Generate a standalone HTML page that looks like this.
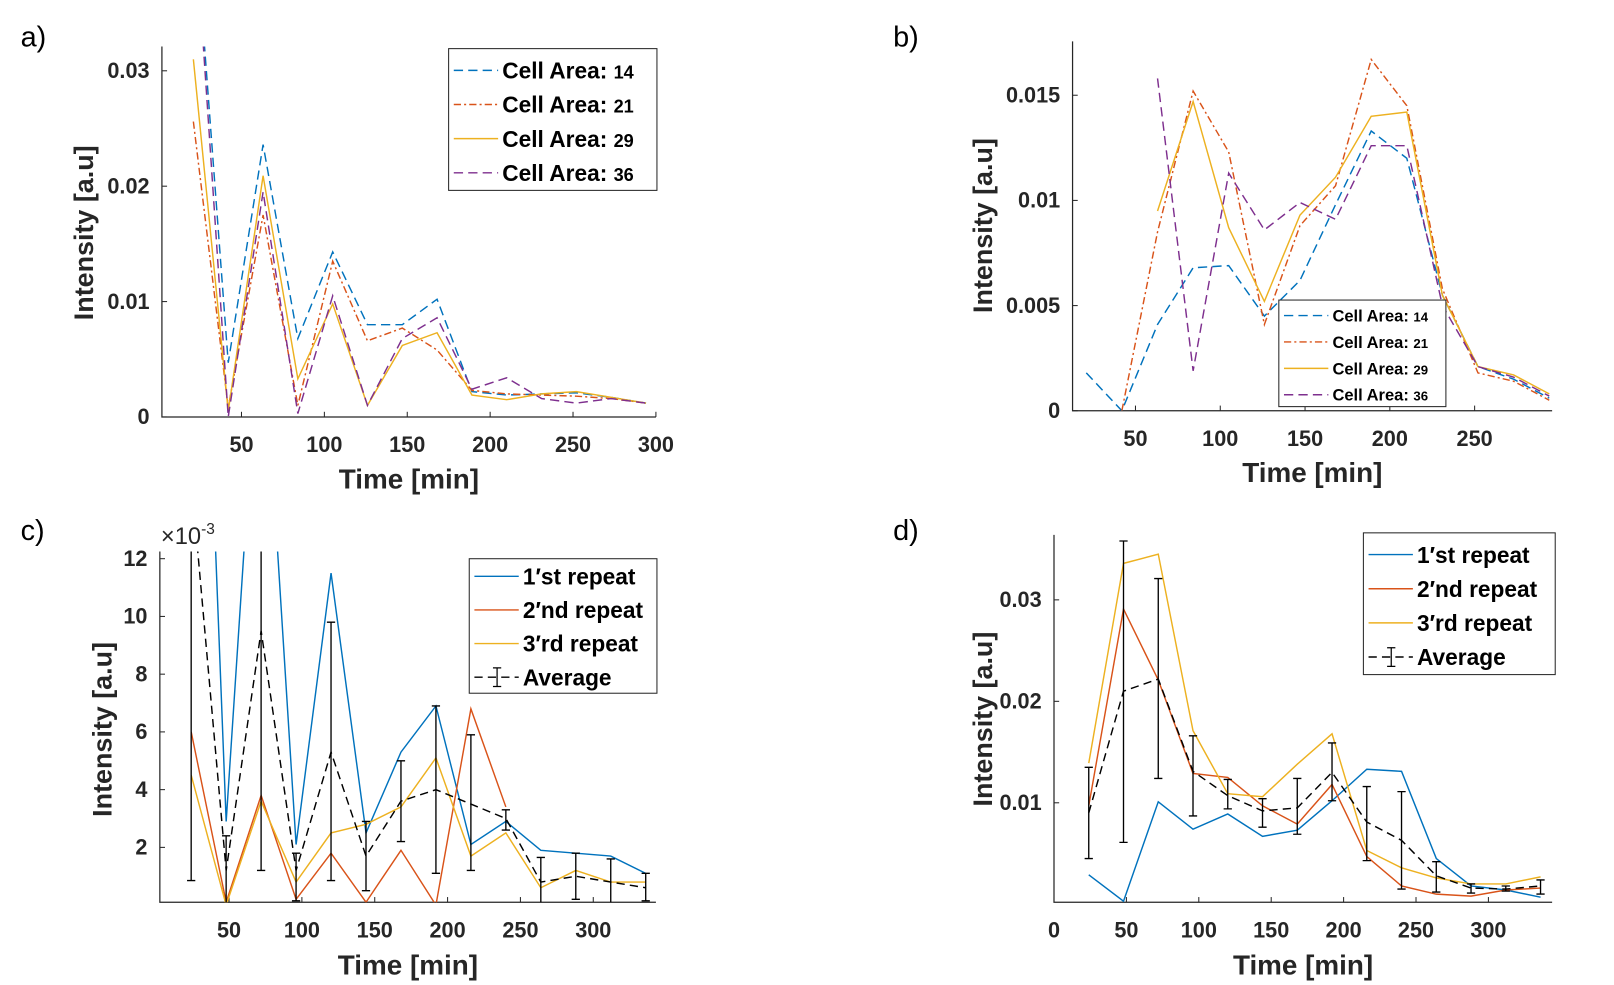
<!DOCTYPE html>
<html><head><meta charset="utf-8">
<style>
html,body{margin:0;padding:0;background:#fff;}
svg{display:block;}
text{font-family:"Liberation Sans Narrow","Liberation Sans",sans-serif;}
</style></head>
<body>
<svg id="fig" width="1614" height="985" viewBox="0 0 1565 952" preserveAspectRatio="none" xmlns="http://www.w3.org/2000/svg"></svg>
<script>
// ---------- Panel a data ----------
const aTimes = [21,42,63,84,105,126,147,168,189,210,231,252,273,294];
const aArea14 = [0.045,0.0047,0.0236,0.0068,0.0143,0.0080,0.0080,0.0102,0.0022,0.0019,0.0020,0.0021,0.0017,0.0012];
const aArea21 = [0.0256,0.0008,0.0175,0.0010,0.0135,0.0066,0.0077,0.0058,0.0023,0.0020,0.0019,0.0018,0.0016,0.0012];
const aArea29 = [0.0310,0.0005,0.0209,0.0033,0.0098,0.0010,0.0062,0.0073,0.0019,0.0015,0.0020,0.0022,0.0017,0.0012];
const aArea36 = [0.045,0.0,0.0195,0.0003,0.0105,0.0010,0.0068,0.0086,0.0024,0.0034,0.0016,0.0012,0.0016,0.0012];
const aXTicks = [50,100,150,200,250,300];
const aYTicks = [0,0.01,0.02,0.03];
const aYTickLabels = ["0","0.01","0.02","0.03"];
// ---------- Panel b data ----------
const bTimes = [21,42,63,84,105,126,147,168,189,210,231,252,273,294];
const bArea14 = [0.0018,0.0,0.0041,0.0068,0.0069,0.0045,0.0062,0.0098,0.0133,0.0120,0.0055,0.0021,0.0015,0.0006];
const bArea21 = [null,0.0,0.0085,0.0152,0.0123,0.0041,0.0088,0.0107,0.0167,0.0145,0.0058,0.0018,0.0014,0.0005];
const bArea29 = [null,null,0.0095,0.0147,0.0087,0.0052,0.0093,0.0111,0.0140,0.0142,0.0055,0.0021,0.0017,0.0008];
const bArea36 = [null,null,0.0158,0.0019,0.0113,0.0086,0.0099,0.0091,0.0126,0.0126,0.0050,0.0021,0.0016,0.0007];
const bXTicks = [50,100,150,200,250];
const bYTicks = [0,0.005,0.01,0.015];
const bYTickLabels = ["0","0.005","0.01","0.015"];
// ---------- Panel c data (x10^-3) ----------
const cTimes = [24,48,72,96,120,144,168,192,216,240,264,288,312,336];
const cRep1 = [34,2.9,21.3,2.1,11.5,2.5,5.3,6.9,2.1,2.9,1.9,1.8,1.7,1.1];
const cRep2 = [6.0,0.1,3.8,0.2,1.8,0.1,1.9,0.0,6.8,3.4,null,null,null,null];
const cRep3 = [4.5,0.0,3.6,0.8,2.5,2.8,3.4,5.1,1.7,2.5,0.6,1.2,0.8,0.8];
const cAvg = [14.8,1.2,9.5,1.2,5.3,1.7,3.6,4.0,3.5,3.0,0.8,1.0,0.8,0.6];
const cErrLow = [0.85,0.0,1.2,0.15,0.85,0.5,2.2,1.1,1.2,2.6,0.0,0.2,0.05,0.15];
const cErrHigh = [30,2.4,20,1.8,9.8,2.9,5.0,6.9,5.9,3.3,1.65,1.8,1.6,1.1];
const cXTicks = [50,100,150,200,250,300];
const cYTicks = [2,4,6,8,10,12];
const cYTickLabels = ["2","4","6","8","10","12"];
// ---------- Panel d data ----------
const dTimes = [24,48,72,96,120,144,168,192,216,240,264,288,312,336];
const dRep1 = [0.0029,0.0003,0.0101,0.0074,0.0089,0.0067,0.0073,0.0102,0.0133,0.0131,0.0045,0.0018,0.0014,0.0007];
const dRep2 = [0.0097,0.0291,0.0221,0.0129,0.0125,0.0097,0.0079,0.0118,0.0047,0.0018,0.0010,0.0008,0.0014,0.0016];
const dRep3 = [0.0139,0.0336,0.0345,0.0171,0.0109,0.0106,0.0138,0.0168,0.0053,0.0036,0.0026,0.0020,0.0020,0.0027];
const dAvg = [0.0090,0.0210,0.0222,0.0131,0.0107,0.0092,0.0095,0.0130,0.0081,0.0063,0.0028,0.0016,0.0015,0.0018];
const dErrLow = [0.0045,0.0061,0.0124,0.0087,0.0094,0.0076,0.0069,0.0102,0.0043,0.0015,0.0012,0.0011,0.0013,0.0010];
const dErrHigh = [0.0135,0.0358,0.0321,0.0166,0.0123,0.0104,0.0124,0.0159,0.0116,0.0111,0.0042,0.0020,0.0018,0.0024];
const dXTicks = [0,50,100,150,200,250,300];
const dYTicks = [0.01,0.02,0.03];
const dYTickLabels = ["0.01","0.02","0.03"];

const NS = "http://www.w3.org/2000/svg";
const svg = document.getElementById('fig');
const BLUE="#0072BD", ORANGE="#D95319", YELLOW="#EDB120", PURPLE="#7E2F8E";
function mk(tag, attrs, parent){
  const e=document.createElementNS(NS,tag);
  for(const k in attrs) e.setAttribute(k,attrs[k]);
  (parent||svg).appendChild(e); return e;
}
let clipId=0;
function panel(p){
  const g=mk('g',{});
  
  
  const sx=v=>p.L+(v-p.x0)/(p.x1-p.x0)*(p.R-p.L);
  const sy=v=>p.B-(v-p.y0)/(p.y1-p.y0)*(p.B-p.T);
  const cid='clip'+(clipId++);
  const cp=mk('clipPath',{id:cid},g);
  mk('rect',{x:p.L,y:p.T,width:p.R-p.L,height:p.B-p.T},cp);
  const ax=mk('path',{d:`M${p.L},${p.T}V${p.B}H${p.R}`,stroke:'#262626','stroke-width':1.2,fill:'none'},g);
  
  
  p.xt.forEach(v=>{
    const x=sx(v);
    mk('line',{x1:x,x2:x,y1:p.B,y2:p.B-5,stroke:'#262626','stroke-width':1},g);
    const t=mk('text',{x:x,y:p.B+34,'text-anchor':'middle','font-size':21,'font-weight':'bold',fill:'#262626'},g);
    t.textContent=v;
    
    
  });
  p.yt.forEach((v,i)=>{
    const y=sy(v);
    mk('line',{x1:p.L,x2:p.L+5,y1:y,y2:y,stroke:'#262626','stroke-width':1},g);
    const t=mk('text',{x:p.L-12,y:y+7,'text-anchor':'end','font-size':21,'font-weight':'bold',fill:'#262626'},g);
    t.textContent=p.ytl[i];
    
    
  });
  const pg=mk('g',{'clip-path':`url(#${cid})`},g);
  p.series.forEach(s=>{
    let d='',pen=false;
    s.y.forEach((v,i)=>{
      if(v===null||v===undefined){pen=false;return;}
      d+=(pen?'L':'M')+sx(p.t[i]).toFixed(1)+','+sy(v).toFixed(1);pen=true;
    });
    const a={d:d,stroke:s.c,'stroke-width':1.4,fill:'none'};
    if(s.dash) a['stroke-dasharray']=s.dash;
    const path=mk('path',a,pg);
    
    
    if(s.lo){
      s.lo.forEach((lo,i)=>{
        const x=sx(p.t[i]),y1=sy(lo),y2=sy(s.hi[i]);
        const eb=mk('path',{d:`M${x},${y1}V${y2}M${x-4},${y1}H${x+4}M${x-4},${y2}H${x+4}`,stroke:'#000','stroke-width':1.3,fill:'none'},pg);
        
        
      });
    }
  });
  const lg=p.leg;
  const lgG=mk('g',{},g);
  
  
  mk('rect',{x:lg.x,y:lg.y,width:lg.w,height:lg.h,fill:'#fff',stroke:'#262626','stroke-width':1},lgG);
  p.series.forEach((s,i)=>{
    const y=lg.y+lg.first+i*lg.step;
    const a={x1:lg.x+5,x2:lg.x+lg.ll,y1:y,y2:y,stroke:s.c,'stroke-width':1.4};
    if(s.dash) a['stroke-dasharray']=s.dash;
    mk('line',a,lgG);
    if(s.lo){const cx=lg.x+5+lg.ll/2-2;mk('path',{d:`M${cx},${y-9}V${y+9}M${cx-4},${y-9}H${cx+4}M${cx-4},${y+9}H${cx+4}`,stroke:'#000','stroke-width':1.2,fill:'none'},lgG);}
    const t=mk('text',{x:lg.x+lg.ll+4,y:y+lg.fs*0.36,'font-size':lg.fs,'font-weight':'bold',fill:'#000'},lgG);
    t.innerHTML=s.label;
    
    
  });
  const xl=mk('text',{x:(p.L+p.R)/2,y:p.xly,'text-anchor':'middle','font-size':27,'font-weight':'bold',fill:'#262626'},g);
  xl.textContent='Time [min]';
  
  
  const yl=mk('text',{x:0,y:0,'text-anchor':'middle','font-size':26,'font-weight':'bold',fill:'#262626',transform:`translate(${p.ylx},${p.yly}) rotate(-90)`,style:'font-family:"Liberation Sans",sans-serif'},g);
  yl.textContent='Intensity [a.u]';
  
  
  const pl=mk('text',{x:p.plx,y:p.ply,'font-size':28,fill:'#000',style:'font-family:"Liberation Sans",sans-serif'},g);
  pl.textContent=p.plabel;
  
  
  return {g,sx,sy};
}
const areaLbl=n=>`Cell Area: <tspan font-size="0.8em">${n}</tspan>`;
panel({name:'panel-a',L:157,R:636,T:45,B:403,x0:2,x1:300,y0:0,y1:0.0321,
  t:aTimes,xt:aXTicks,yt:aYTicks,ytl:aYTickLabels,
  series:[{y:aArea14,c:BLUE,dash:'9,5',n:'line-area-14',label:areaLbl(14)},
          {y:aArea21,c:ORANGE,dash:'7,3,2,3',n:'line-area-21',label:areaLbl(21)},
          {y:aArea29,c:YELLOW,n:'line-area-29',label:areaLbl(29)},
          {y:aArea36,c:PURPLE,dash:'9,5',n:'line-area-36',label:areaLbl(36)}],
  leg:{x:435,y:47,w:202,h:137,first:21,step:33,ll:48,fs:22},
  xly:472,ylx:90,yly:225,plx:20,ply:45,plabel:'a)'});
panel({name:'panel-b',L:1040,R:1505,T:40,B:397,x0:12.9,x1:295.7,y0:0,y1:0.01756,
  t:bTimes,xt:bXTicks,yt:bYTicks,ytl:bYTickLabels,
  series:[{y:bArea14,c:BLUE,dash:'9,5',n:'line-area-14',label:areaLbl(14)},
          {y:bArea21,c:ORANGE,dash:'7,3,2,3',n:'line-area-21',label:areaLbl(21)},
          {y:bArea29,c:YELLOW,n:'line-area-29',label:areaLbl(29)},
          {y:bArea36,c:PURPLE,dash:'9,5',n:'line-area-36',label:areaLbl(36)}],
  leg:{x:1240,y:290,w:162,h:103,first:15,step:25.5,ll:48,fs:16},
  xly:466,ylx:962,yly:218,plx:866,ply:45,plabel:'b)'});
panel({name:'panel-c',L:155,R:636,T:533,B:872,x0:2.5,x1:343,y0:0.1,y1:12.25,
  t:cTimes,xt:cXTicks,yt:cYTicks,ytl:cYTickLabels,
  series:[{y:cRep1,c:BLUE,n:'line-1st-repeat',label:'1′st repeat'},
          {y:cRep2,c:ORANGE,n:'line-2nd-repeat',label:'2′nd repeat'},
          {y:cRep3,c:YELLOW,n:'line-3rd-repeat',label:'3′rd repeat'},
          {y:cAvg,c:'#000',dash:'8,5',n:'line-average',label:'Average',lo:cErrLow,hi:cErrHigh}],
  leg:{x:455,y:540,w:182,h:130,first:17,step:32.5,ll:48,fs:22},
  xly:942,ylx:108,yly:705,plx:20,ply:522,plabel:'c)'});
panel({name:'panel-d',L:1022,R:1505,T:517,B:872,x0:0,x1:344,y0:0.0002,y1:0.0364,
  t:dTimes,xt:dXTicks,yt:dYTicks,ytl:dYTickLabels,
  series:[{y:dRep1,c:BLUE,n:'line-1st-repeat',label:'1′st repeat'},
          {y:dRep2,c:ORANGE,n:'line-2nd-repeat',label:'2′nd repeat'},
          {y:dRep3,c:YELLOW,n:'line-3rd-repeat',label:'3′rd repeat'},
          {y:dAvg,c:'#000',dash:'8,5',n:'line-average',label:'Average',lo:dErrLow,hi:dErrHigh}],
  leg:{x:1322,y:515,w:186,h:137,first:21,step:33,ll:48,fs:22},
  xly:942,ylx:962,yly:695,plx:866,ply:522,plabel:'d)'});
const mult=mk('text',{x:156,y:526,'font-size':23,fill:'#262626'});
mult.innerHTML='×10<tspan dy="-10" font-size="15">-3</tspan>';


</script>
</body></html>
